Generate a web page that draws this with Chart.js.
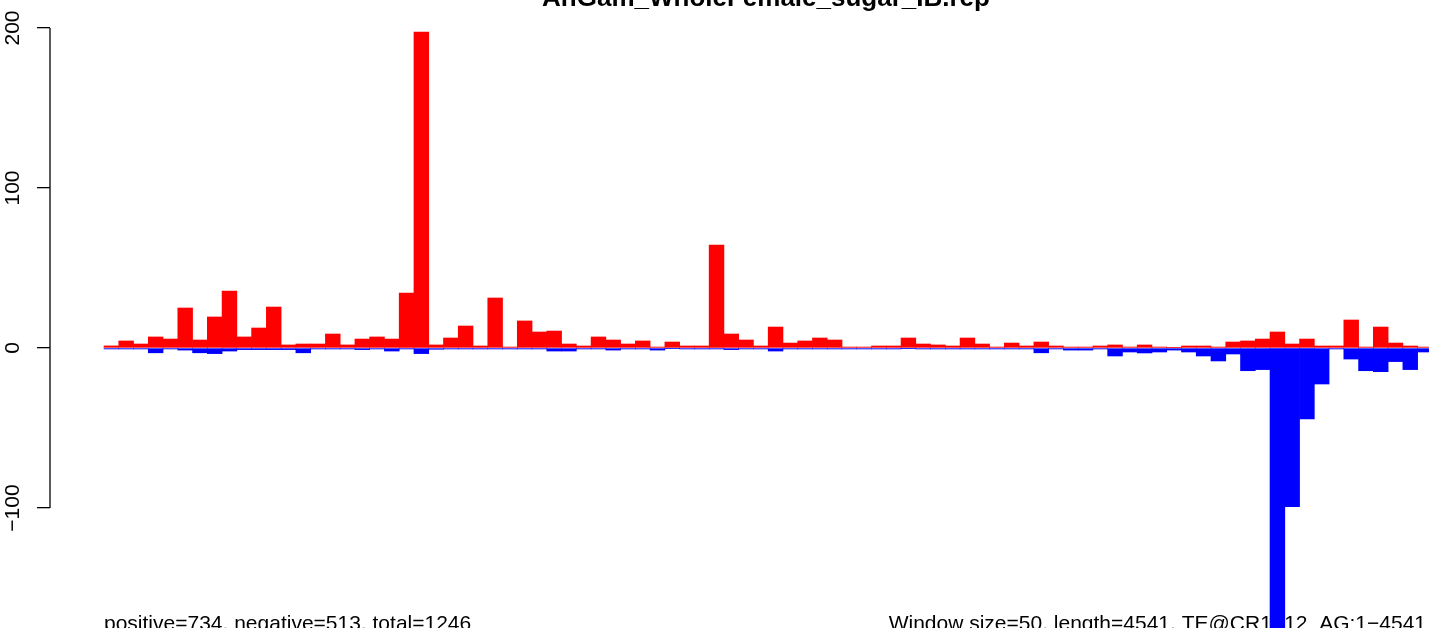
<!DOCTYPE html>
<html><head><meta charset="utf-8">
<script src="https://cdn.jsdelivr.net/npm/chart.js@4.4.1/dist/chart.umd.min.js"></script>
<style>html,body{margin:0;padding:0;background:#fff;overflow:hidden}#wrap{width:1429px;height:628px;position:relative}</style>
</head><body><div id="wrap"><canvas id="c"></canvas></div>
<script>
// window numbers (window size = 50)
const windows = [1,2,3,4,5,6,7,8,9,10,11,12,13,14,15,16,17,18,19,20,
  21,22,23,24,25,26,27,28,29,30,31,32,33,34,35,36,37,38,39,40,
  41,42,43,44,45,46,47,48,49,50,51,52,53,54,55,56,57,58,59,60,
  61,62,63,64,65,66,67,68,69,70,71,72,73,74,75,76,77,78,79,80,
  81,82,83,84,85,86,87,88,89,90];
const positive = [1.3,4.4,2.5,6.9,5.6,25,5,19.4,35.6,6.9,
  12.5,25.6,1.9,2.5,2.5,8.75,1.9,5.6,6.9,5.6,
  34.4,197.5,1.9,6.25,13.75,1.25,31.25,0.6,16.9,10,
  10.6,2.5,1.25,6.9,5,2.5,4.4,0.6,3.75,1.25,
  1.25,64.4,8.75,5,1.25,13.1,3.1,4.4,6.25,5,
  0.6,0.6,1.25,1.25,6.25,2.5,1.9,1.25,6.25,2.5,
  0.6,3.1,1.25,3.75,1.25,0.6,0.6,1.25,1.9,0.6,
  1.9,0.6,0.3,1.25,1.25,0.6,3.75,4.4,5.6,10,
  2.5,5.6,1.25,1.25,17.5,0.6,13.1,3.1,1.25,0.6];
const negative = [-0.6,-0.6,-0.6,-3,-0.6,-1.3,-3,-3.5,-1.9,-1,
  -1,-1,-1,-3,-0.6,-0.6,-0.6,-1,-0.6,-1.9,
  -0.6,-3.5,-0.8,-0.6,-0.6,-0.6,-0.6,-0.6,-0.6,-0.6,
  -1.9,-1.9,-0.6,-0.6,-1.3,-0.6,-0.6,-1.3,-0.3,-0.6,
  -0.6,-0.6,-1,-0.6,-0.6,-1.9,-0.6,-0.6,-0.6,-0.6,
  -0.6,-0.6,-0.6,-0.6,-0.3,-0.6,-0.6,-0.6,-0.6,-0.6,
  -0.6,-0.6,-0.6,-3,-0.6,-1.3,-1.3,-0.6,-5,-2.5,
  -3.1,-2.5,-1.3,-2.5,-5,-8.1,-3.75,-14.2,-13.5,-180,
  -99.2,-44.4,-22.5,-0.6,-6.9,-14.2,-14.8,-8.5,-13.5,-2.5];
const yTickValues = [-100, 0, 100, 200];
const titleText = 'AnGam_WholeFemale_sugar_IB.rep';
const leftNote = 'positive=734, negative=513, total=1246';
const rightNote = 'Window size=50, length=4541, TE@CR1\u221212_AG:1\u22124541';

const FONT = "'Liberation Sans', Arial, Helvetica, sans-serif";

const notes = {
  id: 'notes',
  beforeDatasetsDraw(chart) {
    const ctx = chart.ctx;
    ctx.save();
    ctx.fillStyle = '#000';
    ctx.font = '21px ' + FONT;
    ctx.textBaseline = 'alphabetic';
    ctx.textAlign = 'left';
    ctx.fillText(leftNote, 104, 630);
    ctx.textAlign = 'right';
    ctx.fillText(rightNote, 1426, 630);
    ctx.restore();
  },
  afterDraw(chart) {
    const ctx = chart.ctx;
    const ys = chart.scales.y;
    ctx.save();
    ctx.strokeStyle = '#000';
    ctx.lineWidth = 1.3;
    ctx.beginPath();
    ctx.moveTo(ys.right, ys.getPixelForValue(yTickValues[yTickValues.length - 1]));
    ctx.lineTo(ys.right, ys.getPixelForValue(yTickValues[0]));
    ctx.stroke();
    ctx.fillStyle = '#000';
    ctx.font = 'bold 26px ' + FONT;
    ctx.textAlign = 'center';
    ctx.textBaseline = 'alphabetic';
    ctx.fillText(titleText, 766, 6);
    ctx.restore();
  }
};

new Chart(document.getElementById('c'), {
  type: 'bar',
  data: {
    datasets: [
      {
        label: 'positive',
        data: windows.map((w, i) => ({ x: w - 0.5, y: positive[i] })),
        backgroundColor: '#FF0000',
        borderWidth: 0,
        grouped: false,
        barPercentage: 1,
        categoryPercentage: 1
      },
      {
        label: 'negative',
        data: windows.map((w, i) => ({ x: w - 0.5, y: negative[i] })),
        backgroundColor: '#0000FF',
        borderWidth: 0,
        grouped: false,
        barPercentage: 1,
        categoryPercentage: 1
      }
    ]
  },
  options: {
    responsive: true,
    maintainAspectRatio: false,
    animation: false,
    events: [],
    layout: { padding: { top: 20, left: 0, right: 0, bottom: 0 } },
    plugins: { legend: { display: false }, tooltip: { enabled: false }, title: { display: false } },
    scales: {
      x: {
        type: 'linear',
        display: false,
        offset: false,
        min: -3.659,
        max: 89.77
      },
      y: {
        type: 'linear',
        min: -175,
        max: 205,
        afterBuildTicks(scale) { scale.ticks = yTickValues.map(v => ({ value: v })); },
        afterFit(scale) {
          scale.width = 50;
          scale.paddingTop = 0;
          scale.paddingBottom = 0;
        },
        border: { display: false },
        grid: { drawOnChartArea: false, drawTicks: true, tickLength: 13, color: '#000', lineWidth: 1.3 },
        ticks: {
          color: '#000',
          font: { family: FONT, size: 21 },
          minRotation: 90,
          maxRotation: 90,
          padding: 0,
          crossAlign: 'center',
          callback: (v) => (v < 0 ? '\u2212' + Math.abs(v) : String(v))
        }
      }
    }
  },
  plugins: [notes]
});
</script>
</body></html>
